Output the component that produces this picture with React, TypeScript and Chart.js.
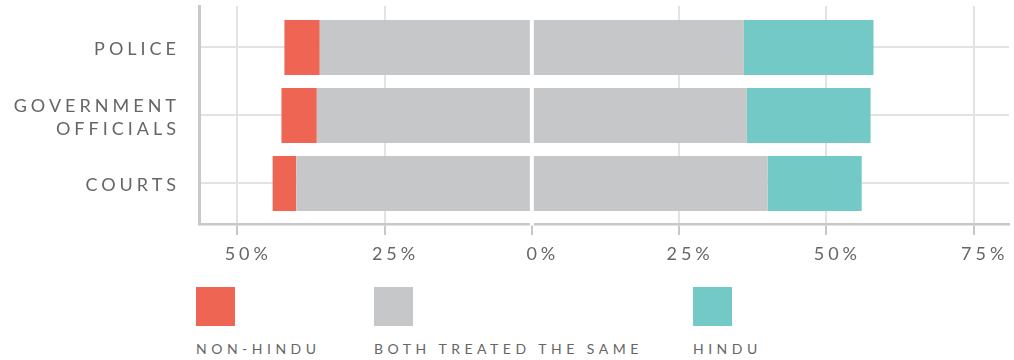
import React, { useEffect, useRef } from 'react';
import { Chart, registerables } from 'chart.js';

Chart.register(...registerables);

// ---- data ----
const categories: string[][] = [['POLICE'], ['GOVERNMENT', 'OFFICIALS'], ['COURTS']];
const nonHindu = [6, 6, 4];
const bothSame = [72, 73, 80];
const hindu = [22, 21, 16];
const xTickValues = [-50, -25, 0, 25, 50, 75];
const legendLabels = ['NON-HINDU', 'BOTH TREATED THE SAME', 'HINDU'];

// ---- styles / layout ----
const RED = '#EE6553';
const GRAY = '#C6C7C9';
const TEAL = '#72C9C6';
const TEXT = '#666666';
const GRID = '#E3E3E3';
const AXIS = '#C8C8C8';
const legendColors = [RED, GRAY, TEAL];
const legendLeft = [196, 374, 693];

const spacingPlugin = {
  id: 'letterSpacingAndZero',
  beforeLayout(chart: any) {
    chart.ctx.letterSpacing = '4px';
  },
  beforeDraw(chart: any) {
    chart.ctx.letterSpacing = '4px';
  },
  afterDatasetsDraw(chart: any) {
    const { ctx, chartArea, scales } = chart;
    const x0 = scales.x.getPixelForValue(0);
    ctx.save();
    ctx.strokeStyle = '#ffffff';
    ctx.lineWidth = 4;
    ctx.beginPath();
    ctx.moveTo(x0, chartArea.top);
    ctx.lineTo(x0, chartArea.bottom + 1.5);
    ctx.stroke();
    ctx.restore();
  },
};

export default function App() {
  const ref = useRef<HTMLCanvasElement | null>(null);

  useEffect(() => {
    if (!ref.current) return;
    const rows = categories.map((_, i) => i);
    const chart = new Chart(ref.current, {
      type: 'bar',
      data: {
        datasets: [
          {
            label: 'BOTH TREATED THE SAME',
            data: rows.map((i) => ({ x: -bothSame[i] / 2, y: i })),
            backgroundColor: GRAY,
          },
          {
            label: 'NON-HINDU',
            data: rows.map((i) => ({ x: -nonHindu[i], y: i })),
            backgroundColor: RED,
          },
          {
            label: 'BOTH TREATED THE SAME ',
            data: rows.map((i) => ({ x: bothSame[i] / 2, y: i })),
            backgroundColor: GRAY,
          },
          {
            label: 'HINDU',
            data: rows.map((i) => ({ x: hindu[i], y: i })),
            backgroundColor: TEAL,
          },
        ] as any,
      },
      options: {
        animation: false,
        responsive: true,
        maintainAspectRatio: false,
        indexAxis: 'y',
        events: [],
        datasets: { bar: { barPercentage: 0.809, categoryPercentage: 1, borderWidth: 0 } } as any,
        layout: { padding: { top: 6, right: 5, left: 0, bottom: 0 } },
        plugins: { legend: { display: false }, tooltip: { enabled: false } },
        scales: {
          x: {
            type: 'linear',
            stacked: true,
            min: -56.5,
            max: 81,
            offset: false,
            bounds: 'data',
            afterBuildTicks: (s: any) => {
              s.ticks = xTickValues.map((v) => ({ value: v }));
            },
            afterFit: (s: any) => {
              s.height = 56;
              s.paddingLeft = 0;
              s.paddingRight = 0;
            },
            grid: {
              offset: false,
              color: GRID,
              lineWidth: 2,
              tickColor: AXIS,
              tickWidth: 2,
              tickLength: 11,
              drawTicks: true,
            },
            border: { color: AXIS, width: 2.5 },
            ticks: {
              color: TEXT,
              font: { size: 18, family: 'Lato' },
              padding: 8,
              labelOffset: 11,
              maxRotation: 0,
              autoSkip: false,
              callback: (v: any) => Math.abs(Number(v)) + '%',
            },
          },
          y: {
            type: 'linear',
            stacked: true,
            reverse: true,
            offset: false,
            bounds: 'data',
            min: -0.61,
            max: 2.596,
            afterBuildTicks: (s: any) => {
              s.ticks = categories.map((_, i) => ({ value: i }));
            },
            afterFit: (s: any) => {
              s.width = 199;
              s.paddingTop = 0;
              s.paddingBottom = 0;
            },
            grid: { offset: false, color: GRID, lineWidth: 2, drawTicks: false },
            border: { color: AXIS, width: 3 },
            ticks: {
              color: TEXT,
              font: { size: 18, family: 'Lato', lineHeight: 1.28 },
              padding: 19,
              labelOffset: 2,
              autoSkip: false,
              callback: (v: any) => categories[Number(v)] ?? '',
            },
          },
        },
      } as any,
      plugins: [spacingPlugin],
    });
    return () => chart.destroy();
  }, []);

  return (
    <div style={{ position: 'absolute', left: 0, top: 0, width: 1014, height: 360, background: '#fff' }}>
      <div style={{ position: 'absolute', left: 0, top: 0, width: 1014, height: 280 }}>
        <canvas ref={ref} />
      </div>
      {legendLabels.map((label, i) => (
        <div key={label} style={{ position: 'absolute', left: legendLeft[i], top: 287 }}>
          <div style={{ width: 39, height: 39, background: legendColors[i] }} />
          <div
            style={{
              marginTop: 16,
              fontFamily: 'Lato',
              fontSize: 14,
              lineHeight: '14px',
              letterSpacing: '4.5px',
              color: TEXT,
              whiteSpace: 'nowrap',
            }}
          >
            {label}
          </div>
        </div>
      ))}
    </div>
  );
}
